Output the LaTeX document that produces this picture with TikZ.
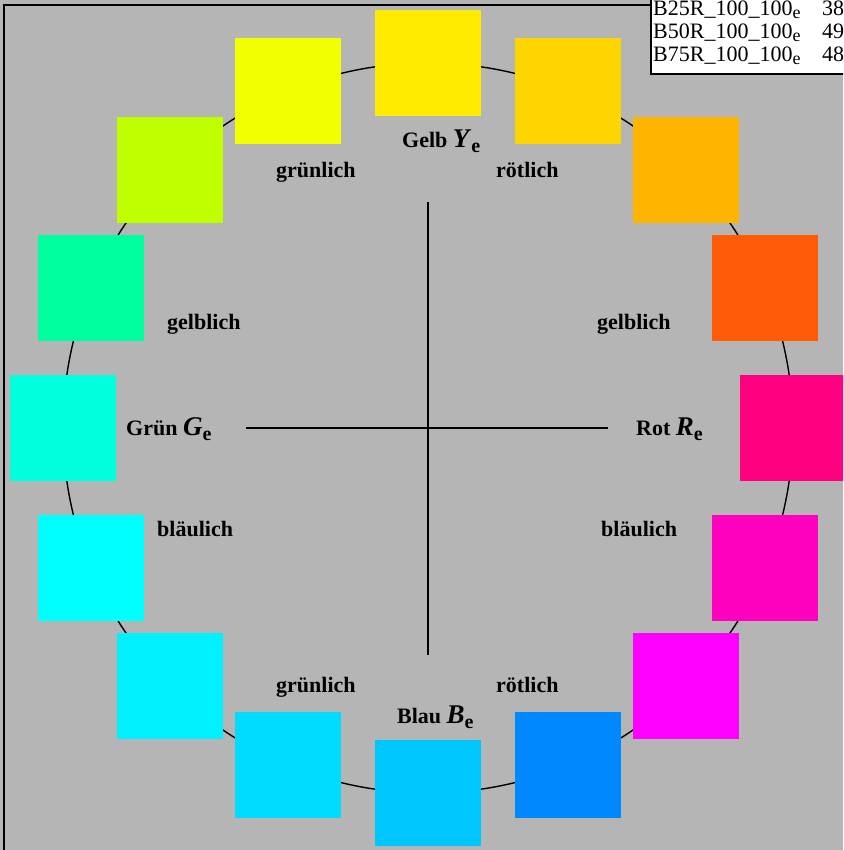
\documentclass[tikz,border=0pt]{standalone}
\usepackage{fontspec}
\setmainfont{Liberation Serif}
\definecolor{bg}{HTML}{B5B5B5}
\definecolor{c0}{HTML}{FFEB00}
\definecolor{c1}{HTML}{FFD500}
\definecolor{c2}{HTML}{FFB400}
\definecolor{c3}{HTML}{FF5A08}
\definecolor{c4}{HTML}{FF0080}
\definecolor{c5}{HTML}{FF00BE}
\definecolor{c6}{HTML}{FF00FF}
\definecolor{c7}{HTML}{0088FF}
\definecolor{c8}{HTML}{00C8FF}
\definecolor{c9}{HTML}{00DCFF}
\definecolor{c10}{HTML}{00F0FF}
\definecolor{c11}{HTML}{00FFFF}
\definecolor{c12}{HTML}{00FFDC}
\definecolor{c13}{HTML}{00FF9F}
\definecolor{c14}{HTML}{C0FF00}
\definecolor{c15}{HTML}{F2FF00}
\newcommand{\subE}{\raisebox{-3pt}{\fontsize{18}{18}\selectfont e}}
\newcommand{\labSub}[1]{{\fontsize{27}{27}\selectfont\textit{#1}}\raisebox{-5pt}{\fontsize{20}{20}\selectfont\bfseries e}}
\begin{document}
\begin{tikzpicture}[x=1pt,y=-1pt,
  sq/.style={minimum size=106pt,inner sep=0pt,draw=none},
  lbl/.style={anchor=base west,inner sep=0pt,font=\fontsize{22}{26}\selectfont\bfseries},
  tbl/.style={anchor=base west,inner sep=0pt,font=\fontsize{22}{26}\selectfont},
  frameline/.style={line width=2.6pt,black},
  cross/.style={line width=1.8pt,black}]
\useasboundingbox (0,0) rectangle (843,850);
\clip (0,0) rectangle (843,850);
\fill[bg] (0,0) rectangle (843,850);
% frame
\coordinate (ftl) at (4,5);
\coordinate (fbl) at (4,852);
\coordinate (ftr) at (651,5);
\draw[frameline] (fbl) -- (ftl) -- (ftr);
% circle
\coordinate (O) at (428,428);
\draw[line width=1.4pt] (O) circle[radius=365pt];
% squares
\foreach \i in {0,...,15}{
  \node[sq,fill=c\i] (s\i) at ({428+365*sin(\i*22.5)},{428-365*cos(\i*22.5)}) {};
}
% cross
\coordinate (hl) at (246,428);
\coordinate (hr) at (608,428);
\coordinate (vt) at (428,202);
\coordinate (vb) at (428,655);
\draw[cross] (hl) -- (hr);
\draw[cross] (vt) -- (vb);
% labels
\node[lbl] (gelb) at (402,148) {Gelb \labSub{Y}};
\node[lbl] (rot) at (636,435) {Rot \labSub{R}};
\node[lbl] (gruen) at (126,435) {Grün \labSub{G}};
\node[lbl] (blau) at (397,723) {Blau \labSub{B}};
\node[lbl] (gl1) at (276,178) {grünlich};
\node[lbl] (rl1) at (496,178) {rötlich};
\node[lbl] (gl2) at (276,692) {grünlich};
\node[lbl] (rl2) at (496,692) {rötlich};
\node[lbl] (ge1) at (167,329) {gelblich};
\node[lbl] (ge2) at (597,329) {gelblich};
\node[lbl] (bl1) at (157,536) {bläulich};
\node[lbl] (bl2) at (601,536) {bläulich};
% table
\coordinate (ta) at (651,-5);
\coordinate (tb) at (850,74);
\draw[fill=white,line width=1.2pt] (ta) rectangle (tb);
\node[tbl] (t1) at (653,16) {B25R\_100\_100\subE};
\node[tbl] (t2) at (653,39) {B50R\_100\_100\subE};
\node[tbl] (t3) at (653,62) {B75R\_100\_100\subE};
\node[tbl] (v1) at (822,16) {38};
\node[tbl] (v2) at (822,39) {49};
\node[tbl] (v3) at (822,62) {48};
\end{tikzpicture}
\end{document}
